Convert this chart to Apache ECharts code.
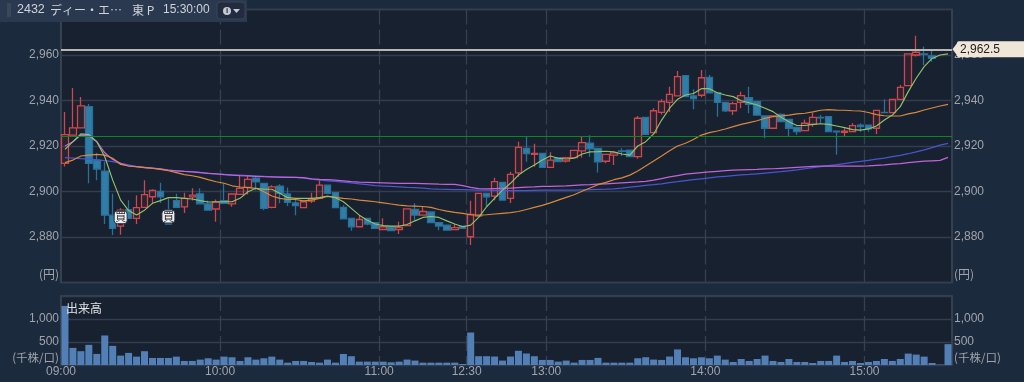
<!DOCTYPE html>
<html><head><meta charset="utf-8">
<style>html,body{margin:0;padding:0;background:#1c2a3e}#c{width:1024px;height:382px}</style>
<script src="https://cdn.jsdelivr.net/npm/echarts@6/dist/echarts.min.js"></script>
</head><body><div id="c"></div>
<script>
const tickLabels = {0:'09:00',20:'10:00',40:'11:00',51:'12:30',61:'13:00',81:'14:00',101:'15:00'};
const barCount = 112;
const categories = Array.from({length: barCount}, (_, i) => String(i));
const opens = [2912.4,2924.8,2928,2937.3,2913.8,2909,2889.6,2884.8,2892,2888.2,2893,2897.7,2900,2891.8,2896,2893.2,2897.6,2899,2894.6,2892.3,2896,2894.6,2898.7,2901.8,2905.9,2903.6,2893,2902.4,2898.9,2895,
2892.9,2895.8,2897,2902.8,2899.5,2893,2888.2,2884.5,2888.2,2886.3,2883.3,2884.5,2883.3,2885,2892.1,2889.6,2891,2886.3,2885.2,2883.2,2884.8,
2880.1,2889.2,2899.2,2898,2904,2897,2908.2,2919,2916.3,2916.8,2910.6,2914.9,2913.4,2914.9,2917.9,2921.2,2919,2913.3,2916,2917.9,2918.2,2915.3,2932.6,2925.9,2934.8,2939.2,2942,2950.9,2942,2942.3,2950.2,2943.4,2939.2,2935.5,2939.2,2941.2,
2939.5,2933.2,2927.8,2933.9,2931.7,2928.2,2926.8,2929.5,2932.6,2932.9,2926.5,2926,2926.3,2929.2,2929.2,2927.8,2934.8,2934.7,2940.5,2946.5,2960,2960.5,2959.6,'-','-'];
const closes = [2925,2928,2937.6,2912.4,2909.9,2889.6,2883.8,2891.8,2888.2,2892.9,2898.6,2900.5,2897.6,2885.7,2893,2897,2898.4,2894.6,2891.8,2895.5,2894.8,2898.9,2901.4,2905.3,2904.2,2892.6,2902,2899.2,2895.2,2893.8,
2895.5,2896.7,2902.8,2899.2,2892.9,2888,2884.5,2887.7,2885.7,2883.8,2884.5,2882.8,2884.2,2892.4,2889.6,2891.2,2886.3,2884.8,2883,2884.1,2883.8,
2889.9,2899.2,2897.7,2904.3,2896.2,2907.5,2919.4,2916.7,2916.7,2910.6,2913.8,2913.1,2914.9,2918.1,2921.5,2918.7,2913,2916.3,2917,2917.6,2915.3,2932.2,2925.1,2935.5,2939.5,2942.7,2950.5,2941.7,2940.8,2950,2943.4,2939.2,2935.4,2938.6,2942.1,2938.3,
2933.6,2927.8,2933.2,2930.7,2927.8,2926.3,2930,2932.6,2932.4,2926.3,2926.2,2926.5,2929,2928.5,2927.5,2935.7,2934.7,2940.5,2945.8,2960.5,2961.2,2960.3,2958.5,'-','-'];
const lows = [2911,2924.8,2928,2903.6,2905,2885.7,2880.9,2881,2888.2,2885.7,2893,2894.5,2895,2885.7,2893,2890.6,2896,2894.4,2891.8,2886.7,2894.8,2893.3,2898.7,2898.7,2900.6,2891.8,2892.6,2894.8,2893.6,2889.6,
2892.6,2895,2897,2899.2,2892.9,2887.7,2882.8,2884.5,2885.2,2883.8,2883.3,2882.8,2881.3,2885,2887.1,2889.6,2886.3,2883,2883,2883,2883.8,
2876.5,2889.2,2893.6,2896.2,2896.2,2895,2906.5,2913.1,2910.9,2910.6,2910.6,2913.1,2912.8,2914.9,2915,2915.3,2908.3,2912.4,2911.6,2915.6,2915.3,2914.4,2925.1,2925.9,2933.9,2935,2942,2941.7,2936.1,2941.4,2943.4,2932.9,2935,2933.6,2936.6,2934.4,
2933.6,2923.4,2927.8,2930.7,2924.1,2924.8,2926.8,2928.5,2930,2926.3,2916.1,2924.1,2926.3,2926.3,2926.3,2925.3,2934.7,2934.7,2940.5,2946.5,2959.3,2955.6,2957,'-','-'];
const highs = [2935,2945.5,2941.5,2938.5,2916.8,2913,2899,2892.6,2896.2,2898.4,2905,2901,2903.9,2897,2899,2899.5,2901.4,2901.4,2896,2896.5,2903.6,2898.9,2906.8,2906.8,2906.8,2903.6,2902.8,2903.2,2901.8,2896.8,
2896,2899.5,2905,2902.8,2899.5,2894,2888.2,2889.6,2888.2,2886.3,2888.2,2884.5,2886.7,2892.4,2894.8,2893.6,2891,2886.3,2885.2,2885.7,2884.8,
2895.9,2899.2,2899.2,2906,2904,2908.7,2921.9,2924,2921,2916.8,2917.2,2914.9,2915.3,2918.1,2924,2924.7,2919,2916.3,2917,2919,2918.2,2933.2,2932.6,2936.6,2940.5,2946,2953,2950.9,2945,2953.4,2951.2,2943.4,2939.2,2939.5,2943.9,2946,
2939.5,2933.2,2933.2,2934.4,2931.7,2928.2,2931.7,2934.7,2933.6,2932.9,2926.5,2927.8,2930,2930,2929.2,2935.7,2940.5,2940.5,2946.8,2960.5,2968.5,2963.7,2961.9,'-','-'];
const shortAvg = [2918.5,2921.9,2925.3,2925,2921.9,2915.3,2905,2896.2,2891.6,2889.7,2891.8,2894.8,2896,2897.3,2897.3,2897,2896.7,2896,2895.4,2895.4,2895.5,2895.5,2897,2899.9,2901.4,2901,2901,2899.2,2897.3,2897,
2897,2897,2897.3,2898,2897.3,2895.5,2892.6,2889.6,2887.4,2885.7,2885,2884.8,2884.8,2885.5,2887.1,2888.6,2889,2888.6,2887.1,2885.7,2884.5,2885.2,2888.6,2893.3,2897,2900.6,2903.6,2907.2,2909.7,2911.6,2913.8,
2915.6,2914.6,2914.3,2914.6,2916.5,2917.4,2917.5,2917.7,2917.4,2916.5,2916,2920,2921.9,2925.3,2931.4,2936.6,2940.5,2942.4,2943.1,2945.2,2945.2,2943.4,2942.4,2941.7,2939.9,2939,
2938,2936.6,2935.1,2932.6,2930.7,2929,2929,2929.5,2929.8,2929.5,2928.8,2928.1,2927.2,2927,2927.5,2928.8,2931.4,2933.6,2937.3,2943.9,2949.8,2954.9,2958.5,2960,2960.5];
const midAvg = [2912.7,2913.8,2915.6,2916,2916.3,2916,2914.6,2911.9,2911.2,2910.9,2910.5,2910.2,2909.7,2909.1,2908.3,2907.4,2906.9,2906.2,2905.2,2904.3,2903.6,2902.5,2902,2901.7,2901.4,2899.9,2898,2897,2896.5,2896.5,
2895.9,2896.2,2897,2897.8,2897.4,2897,2896.7,2896.2,2895.9,2895.5,2895,2894.5,2894,2893.7,2893.6,2893.4,2893,2892.1,2891.4,2890.8,2890.4,2889.8,2889.6,2889.8,2890.1,2890.4,2890.7,2891.2,2892.1,2893,2893.9,
2895,2896.2,2897.4,2898.6,2900.1,2901.5,2903,2904,2905.2,2906,2907.2,2909,2911.2,2913.4,2915.6,2917.9,2920,2921.2,2922.9,2924.8,2925.9,2926.6,2927.5,2928.5,2929.5,2930.3,
2931.1,2932.2,2932.9,2933.2,2933.6,2934.1,2934.4,2935,2935.7,2936,2935.8,2935.7,2935.5,2935.4,2934.7,2933.8,2933.3,2933.2,2933.2,2934.1,2934.8,2935.8,2936.7,2937.6,2938.3];
const longAvg = [2914.9,2914.7,2914.4,2914.2,2913.9,2913.6,2913.1,2912.4,2911.7,2910.9,2910.5,2910.2,2909.8,2909.4,2909.1,2908.9,2908.7,2908.4,2908,2907.7,2907.5,2907.3,2907.2,2907,2906.8,2906.6,2906.4,2906.3,2906.3,2906.2,
2905.9,2905.4,2905,2904.7,2904.4,2904.1,2903.8,2903.4,2903,2902.6,2902.4,2902.2,2902,2901.8,2901.7,2901.5,2901.2,2901,2900.9,2900.8,2900.8,2900.7,2900.6,2900.6,2900.5,2900.4,2900.4,2900.4,2900.4,2900.5,2900.6,
2900.6,2900.6,2900.6,2900.6,2900.7,2900.8,2900.9,2901,2901.2,2901.5,2901.9,2902.3,2902.7,2903,2903.4,2903.9,2904.3,2904.8,2905.2,2905.6,2906,2906.4,2906.7,2907,2907.3,2907.5,
2907.8,2908.1,2908.4,2908.7,2909.1,2909.5,2910,2910.5,2910.9,2911.4,2911.8,2912.3,2912.8,2913.2,2913.7,2914.2,2914.7,2915.3,2915.9,2916.6,2917.4,2918.3,2919.3,2920.4,2921.2];
const vwapLine = [2920,2921.9,2924.8,2924.4,2921.9,2917,2914.1,2912.4,2911.2,2910.9,2910.6,2910.3,2909.9,2909.4,2909.1,2908.8,2908.6,2908.3,2908,2907.7,2907.4,2907.2,2907,2906.9,2906.7,2906.5,2906.4,2906.3,2906.2,2906.2,
2906.1,2905.6,2905.3,2905.2,2905,2904.7,2904.3,2904.1,2904,2903.9,2903.8,2903.7,2903.6,2903.6,2903.6,2903.5,2903.4,2903.2,2903.1,2903.1,2902.6,2901.8,2901.3,2901.2,2901.3,2901.4,2901.5,2901.7,2901.9,2902,2902.2,
2902.3,2902.4,2902.5,2902.7,2902.9,2903,2903.2,2903.4,2903.6,2903.8,2904,2904.2,2904.5,2905,2905.7,2906.4,2907,2907.6,2908,2908.3,2908.6,2908.9,2909.2,2909.4,2909.5,2909.6,
2909.7,2909.9,2910,2910.2,2910.4,2910.6,2910.8,2911,2911.1,2911.2,2911.2,2911.2,2911.2,2911.2,2911.3,2911.5,2911.7,2912,2912.3,2912.7,2913,2913.3,2913.5,2913.7,2915];
const volumes = [1285,372,300,438,241,642,416,204,263,182,300,153,153,153,182,88,88,117,146,117,182,168,88,168,117,146,182,117,51,88,88,66,51,117,51,240,191,73,73,73,73,59,73,118,96,51,51,51,51,51,22,
706,191,191,184,96,184,309,250,191,110,110,73,96,51,110,110,154,51,51,51,51,147,169,118,110,184,338,168,146,168,146,204,117,66,131,88,131,204,88,66,131,66,66,44,88,88,204,66,88,44,66,88,131,88,131,248,226,182,44,7,453];
const lastPrice = 2962.5;
const supportLevel = 2924.4;
const buyMarks = [[7,2888.7],[13,2889]];

const gridC = '#333d4b', borderC = '#3f4a5b', textC = '#a0a4aa';
const font = '"Liberation Sans","Noto Sans CJK JP",sans-serif';
const isTick = i => tickLabels[i] !== undefined;
const splitV = {show:true, interval:(i)=>isTick(i)&&i!==0, lineStyle:{color:'#364150',width:1.3,type:[15,5]}};
const priceFmt = v => (v===2860||v===2980) ? '' : v.toLocaleString('en-US');
const volFmt = v => (v===0||v===1500) ? '' : v.toLocaleString('en-US');
const yBase = {axisLine:{show:false},axisTick:{show:false},
  axisLabel:{color:textC,fontSize:12,fontFamily:font,margin:2}};
const line = (name,data,color,w) => ({name,type:'line',data,xAxisIndex:0,yAxisIndex:0,showSymbol:false,symbol:'none',
  lineStyle:{color,width:w||1.15},silent:true,z:3});

const chart = echarts.init(document.getElementById('c'),null,{renderer:'canvas'});
chart.setOption({
  animation:false,
  backgroundColor:'#1c2a3e',
  grid:[
    {left:61,right:72,top:9.5,height:273,show:true,backgroundColor:'#172130',borderColor:borderC,borderWidth:1.5},
    {left:61,right:72,top:296,height:69,show:true,backgroundColor:'#172130',borderColor:borderC,borderWidth:1.5}
  ],
  xAxis:[
    {type:'category',gridIndex:0,data:categories,boundaryGap:true,axisLine:{show:false},axisTick:{show:false},axisLabel:{show:false},splitLine:splitV},
    {type:'category',gridIndex:1,data:categories,boundaryGap:true,axisLine:{show:false},axisTick:{show:false},splitLine:splitV,
     axisLabel:{show:true,interval:(i)=>isTick(i),formatter:(v,i)=>tickLabels[i]||'',color:textC,fontSize:12,fontFamily:font,margin:1,padding:[0,8,0,0],hideOverlap:false}}
  ],
  yAxis:[
    {...yBase,type:'value',gridIndex:0,min:2860,max:2980,interval:20,position:'left',splitLine:{lineStyle:{color:gridC,width:1.3}},axisLabel:{...yBase.axisLabel,formatter:priceFmt}},
    {...yBase,type:'value',gridIndex:0,min:2860,max:2980,interval:20,position:'right',splitLine:{show:false},axisLabel:{...yBase.axisLabel,formatter:priceFmt}},
    {...yBase,type:'value',gridIndex:1,min:0,max:1500,interval:500,position:'left',splitLine:{lineStyle:{color:gridC,width:1.3}},axisLabel:{...yBase.axisLabel,formatter:volFmt}},
    {...yBase,type:'value',gridIndex:1,min:0,max:1500,interval:500,position:'right',splitLine:{show:false},axisLabel:{...yBase.axisLabel,formatter:volFmt}}
  ],
  series:[
    {type:'candlestick',xAxisIndex:0,yAxisIndex:0,barWidth:7,silent:true,z:2,
     data:opens.map((o,i)=>[o,closes[i],lows[i],highs[i]]),
     itemStyle:{color:'rgba(190,60,60,0.10)',color0:'#2f7ea8',borderColor:'#cf474c',borderColor0:'#2a7098',borderWidth:1.3},
     markLine:{silent:true,symbol:'none',animation:false,z:4,data:[
       {yAxis:supportLevel,lineStyle:{color:'#0a8a1e',width:1.1,type:'solid',opacity:1},label:{show:false}},
       {yAxis:lastPrice,lineStyle:{color:'#b8b6af',width:2,type:'solid',opacity:1},
        label:{show:true,position:'end',distance:5,formatter:()=>lastPrice.toLocaleString('en-US',{minimumFractionDigits:1}),color:'#222',fontSize:12,fontFamily:font,backgroundColor:'#efe6d8',padding:[2,30,2,3],borderRadius:2}}
     ]},
     markPoint:{silent:true,animation:false,z:6,data:[
       ...buyMarks.map(m=>({coord:m,symbol:'roundRect',symbolSize:[13,13],itemStyle:{color:'#eeeeee',borderColor:'#222c3a',borderWidth:1},
         label:{show:true,position:'inside',formatter:'買',color:'#2a2a2a',fontSize:11,fontFamily:'"Noto Sans CJK JP"'}})),
       {coord:[111,lastPrice],symbol:'triangle',symbolSize:[16,6],symbolRotate:90,symbolOffset:[7.5,0],itemStyle:{color:'#efe6d8'},label:{show:false}}
     ]}},
    line('long',longAvg,'#4a55d0',1.25),
    line('vwap',vwapLine,'#c264d8',1.25),
    line('mid',midAvg,'#d88a3c'),
    line('short',shortAvg,'#8fc36a'),
    {type:'bar',xAxisIndex:1,yAxisIndex:2,data:volumes,barWidth:'88%',itemStyle:{color:'#5280b6'},silent:true}
  ],
  graphic:[
    {type:'rect',z:100,shape:{x:0,y:0,width:247,height:22},style:{fill:'#2a394f'}},
    {type:'rect',z:101,shape:{x:7,y:3,width:4,height:14},style:{fill:'#3a485c'}},
    {type:'text',z:101,x:17,y:10,style:{text:'2432',fill:'#cfd3d8',font:'12.5px '+font,verticalAlign:'middle'}},
    {type:'text',z:101,x:50,y:10,style:{text:'ディー・エ…',fill:'#cfd3d8',font:'12px "Noto Sans CJK JP"',verticalAlign:'middle'}},
    {type:'text',z:101,x:132,y:10,style:{text:'東 P',fill:'#cfd3d8',font:'12px "Noto Sans CJK JP"',verticalAlign:'middle'}},
    {type:'text',z:101,x:163,y:10,style:{text:'15:30:00',fill:'#cfd3d8',font:'12px '+font,verticalAlign:'middle'}},
    {type:'rect',z:101,shape:{x:217,y:2,width:28,height:17,r:3},style:{fill:'#222b40',stroke:'#3a4558'}},
    {type:'circle',z:102,shape:{cx:227,cy:11,r:4},style:{fill:'#c4c8cf'}},
    {type:'text',z:103,x:227,y:11,style:{text:'i',fill:'#222b40',font:'bold 8px '+font,align:'center',verticalAlign:'middle'}},
    {type:'polygon',z:102,shape:{points:[[233,9],[240,9],[236.5,13]]},style:{fill:'#c4c8cf'}},
    {type:'text',z:20,x:59,y:274,style:{text:'(円)',fill:textC,font:'12px "Noto Sans CJK JP"',align:'right',verticalAlign:'middle'}},
    {type:'text',z:20,x:954,y:274,style:{text:'(円)',fill:textC,font:'12px "Noto Sans CJK JP"',verticalAlign:'middle'}},
    {type:'text',z:20,x:59,y:358,style:{text:'(千株/口)',fill:textC,font:'11.5px "Noto Sans CJK JP"',align:'right',verticalAlign:'middle'}},
    {type:'text',z:20,x:954,y:358,style:{text:'(千株/口)',fill:textC,font:'11.5px "Noto Sans CJK JP"',verticalAlign:'middle'}},
    {type:'text',z:20,x:66,y:308,style:{text:'出来高',fill:'#dfe2e6',font:'12px "Noto Sans CJK JP"',verticalAlign:'middle'}}
  ]
});
</script></body></html>
